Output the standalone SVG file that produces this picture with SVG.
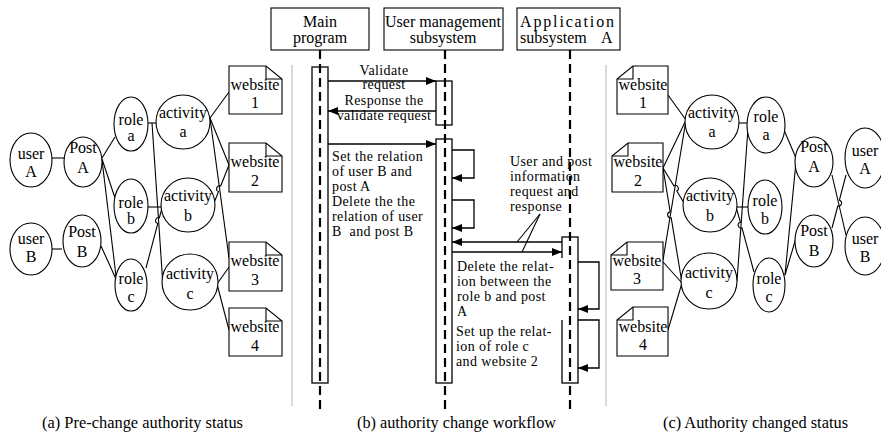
<svg xmlns="http://www.w3.org/2000/svg" width="881" height="438" viewBox="0 0 881 438">
<defs>
<marker id="ah" viewBox="0 0 10 8" refX="10" refY="4" markerWidth="10" markerHeight="8" markerUnits="userSpaceOnUse" orient="auto">
<path d="M0,0 L10,4 L0,8 Z" fill="#000"/>
</marker>
<style>
.n{fill:#fff;stroke:#000;stroke-width:1.1}
.f{fill:none;stroke:#000;stroke-width:1.1}
.t{font-family:"Liberation Serif","Times New Roman",serif;font-size:16px;fill:#000}
.s{font-size:14px;letter-spacing:0.4px}
.m{text-anchor:middle}
.c{fill:none;stroke:#000;stroke-width:1.1}
.a{fill:none;stroke:#000;stroke-width:1.3;marker-end:url(#ah)}
.life{stroke:#000;stroke-width:2.2;stroke-dasharray:9 5;fill:none}
.act{fill:#fff;stroke:#000;stroke-width:1.3}
.sep{stroke:#b4b4b4;stroke-width:1}
</style>
</defs>
<rect width="881" height="438" fill="#fff"/>

<!-- separators -->
<line class="sep" x1="292" y1="65" x2="292" y2="406"/>
<line class="sep" x1="606" y1="65" x2="606" y2="406"/>

<!-- connectors: left panel -->
<g id="connectors-left">
<line class="c" x1="51" y1="158" x2="64" y2="158"/>
<line class="c" x1="52" y1="249" x2="62" y2="249"/>
<line class="c" x1="102" y1="158" x2="115" y2="137"/>
<line class="c" x1="102" y1="159" x2="115" y2="198"/>
<line class="c" x1="102" y1="160" x2="116" y2="276"/>
<line class="c" x1="101" y1="246" x2="116" y2="279"/>
<line class="c" x1="148" y1="123" x2="157" y2="123"/>
<line class="c" x1="152" y1="123" x2="163" y2="286"/>
<line class="c" x1="147" y1="207" x2="162" y2="207"/>
<path class="c" d="M146,268 L157.8,223.5 A3,3 0 0 1 159.4,217.7 L162,208"/>
<line class="c" x1="210" y1="118" x2="229" y2="92"/>
<line class="c" x1="210" y1="118" x2="229" y2="165"/>
<line class="c" x1="210" y1="118" x2="229" y2="258"/>
<path class="c" d="M214,203 L218.5,191.6 A3,3 0 0 1 220.7,186 L229,165"/>
<line class="c" x1="217" y1="284" x2="229" y2="267"/>
<line class="c" x1="217" y1="284" x2="229" y2="330"/>
</g>

<!-- connectors: right panel -->
<g id="connectors-right">
<line class="c" x1="686" y1="120" x2="668" y2="95"/>
<line class="c" x1="686" y1="120" x2="663" y2="168"/>
<line class="c" x1="686" y1="120" x2="663" y2="260"/>
<path class="c" d="M663,168 L673.8,185.8 A3,3 0 0 1 676.8,191 L684,203"/>
<path class="c" d="M663,168 L670.2,211.9 A3,3 0 0 0 671.2,217.9 L682,283"/>
<line class="c" x1="663" y1="262" x2="682" y2="283"/>
<line class="c" x1="668" y1="330" x2="682" y2="283"/>
<line class="c" x1="738" y1="123" x2="747" y2="123"/>
<line class="c" x1="748" y1="128" x2="737" y2="281"/>
<line class="c" x1="737" y1="207" x2="748" y2="207"/>
<path class="c" d="M736,207 L740.4,222.2 A3,3 0 0 0 742,228 L754,272"/>
<line class="c" x1="784" y1="130" x2="796" y2="158"/>
<line class="c" x1="796" y1="162" x2="785" y2="275"/>
<line class="c" x1="796" y1="238" x2="785" y2="275"/>
<line class="c" x1="832" y1="175" x2="846" y2="235"/>
<path class="c" d="M832,228 L837.8,206 A3,3 0 0 0 839.4,200.2 L846,175"/>
</g>

<!-- left panel nodes -->
<g id="userA-left"><ellipse class="n" cx="31" cy="160" rx="21" ry="27"/><text class="t m" x="31" y="159">user<tspan x="31" dy="18">A</tspan></text></g>
<g id="postA-left"><ellipse class="n" cx="83" cy="162" rx="19" ry="25"/><text class="t m" x="83" y="153">Post<tspan x="83" dy="20">A</tspan></text></g>
<g id="userB-left"><ellipse class="n" cx="31" cy="249" rx="21" ry="26"/><text class="t m" x="31" y="244">user<tspan x="31" dy="18">B</tspan></text></g>
<g id="postB-left"><ellipse class="n" cx="82" cy="241" rx="19" ry="26"/><text class="t m" x="82" y="237">Post<tspan x="82" dy="20">B</tspan></text></g>
<g id="roleA-left"><ellipse class="n" cx="131" cy="124" rx="17" ry="27"/><text class="t m" x="131" y="125">role<tspan x="131" dy="16">a</tspan></text></g>
<g id="roleB-left"><ellipse class="n" cx="131" cy="206" rx="17" ry="27"/><text class="t m" x="131" y="208">role<tspan x="131" dy="16">b</tspan></text></g>
<g id="roleC-left"><ellipse class="n" cx="131" cy="285" rx="16" ry="26"/><text class="t m" x="131" y="284">role<tspan x="131" dy="18">c</tspan></text></g>
<g id="activityA-left"><circle class="n" cx="183" cy="122" r="27"/><text class="t m" x="183" y="118">activity<tspan x="183" dy="19">a</tspan></text></g>
<g id="activityB-left"><circle class="n" cx="188" cy="205" r="27"/><text class="t m" x="188" y="201">activity<tspan x="188" dy="20">b</tspan></text></g>
<g id="activityC-left"><circle class="n" cx="190" cy="282" r="28"/><text class="t m" x="190" y="279">activity<tspan x="190" dy="20">c</tspan></text></g>
<g id="website1-left"><path class="n" d="M229,66 H266 L282,79 V114 H229 Z"/><path class="f" d="M266,66 V79 H282"/><text class="t m" x="255" y="90">website<tspan x="255" dy="18">1</tspan></text></g>
<g id="website2-left"><path class="n" d="M229,143 H266 L282,156 V192 H229 Z"/><path class="f" d="M266,143 V156 H282"/><text class="t m" x="255" y="167">website<tspan x="255" dy="19">2</tspan></text></g>
<g id="website3-left"><path class="n" d="M229,242 H266 L282,255 V291 H229 Z"/><path class="f" d="M266,242 V255 H282"/><text class="t m" x="255" y="266">website<tspan x="255" dy="19">3</tspan></text></g>
<g id="website4-left"><path class="n" d="M229,308 H266 L282,321 V356 H229 Z"/><path class="f" d="M266,308 V321 H282"/><text class="t m" x="255" y="332">website<tspan x="255" dy="19">4</tspan></text></g>

<!-- right panel nodes -->
<g id="website1-right"><path class="n" d="M633,66 H668 V114 H617 V79 Z"/><path class="f" d="M633,66 V79 H617"/><text class="t m" x="643" y="90">website<tspan x="643" dy="18">1</tspan></text></g>
<g id="website2-right"><path class="n" d="M628,143 H663 V192 H612 V156 Z"/><path class="f" d="M628,143 V156 H612"/><text class="t m" x="638" y="167">website<tspan x="638" dy="19">2</tspan></text></g>
<g id="website3-right"><path class="n" d="M627,242 H663 V290 H611 V255 Z"/><path class="f" d="M627,242 V255 H611"/><text class="t m" x="637" y="266">website<tspan x="637" dy="18">3</tspan></text></g>
<g id="website4-right"><path class="n" d="M633,307 H668 V356 H617 V320 Z"/><path class="f" d="M633,307 V320 H617"/><text class="t m" x="643" y="332">website<tspan x="643" dy="18">4</tspan></text></g>
<g id="activityA-right"><circle class="n" cx="712" cy="122" r="27"/><text class="t m" x="712" y="118">activity<tspan x="712" dy="19">a</tspan></text></g>
<g id="activityB-right"><circle class="n" cx="710" cy="205" r="27"/><text class="t m" x="710" y="201">activity<tspan x="710" dy="20">b</tspan></text></g>
<g id="activityC-right"><circle class="n" cx="709" cy="281" r="28"/><text class="t m" x="709" y="278">activity<tspan x="709" dy="20">c</tspan></text></g>
<g id="roleA-right"><ellipse class="n" cx="766" cy="125" rx="19" ry="28"/><text class="t m" x="766" y="122">role<tspan x="766" dy="18">a</tspan></text></g>
<g id="roleB-right"><ellipse class="n" cx="765" cy="207" rx="17" ry="27"/><text class="t m" x="765" y="206">role<tspan x="765" dy="18">b</tspan></text></g>
<g id="roleC-right"><ellipse class="n" cx="769" cy="285" rx="16" ry="27"/><text class="t m" x="769" y="284">role<tspan x="769" dy="18">c</tspan></text></g>
<g id="postA-right"><ellipse class="n" cx="814" cy="162" rx="19" ry="25"/><text class="t m" x="814" y="152">Post<tspan x="814" dy="20">A</tspan></text></g>
<g id="postB-right"><ellipse class="n" cx="814" cy="241" rx="19" ry="26"/><text class="t m" x="814" y="236">Post<tspan x="814" dy="20">B</tspan></text></g>
<g id="userA-right"><ellipse class="n" cx="865" cy="158" rx="20" ry="30"/><text class="t m" x="865" y="156">user<tspan x="865" dy="18">A</tspan></text></g>
<g id="userB-right"><ellipse class="n" cx="865" cy="246" rx="20" ry="29"/><text class="t m" x="865" y="244">user<tspan x="865" dy="18">B</tspan></text></g>

<!-- sequence diagram -->
<g id="main-program"><rect class="n" x="271" y="8" width="98" height="42"/><text class="t m" x="320" y="27">Main<tspan x="320" dy="16">program</tspan></text></g>
<g id="user-management"><rect class="n" x="384" y="8" width="119" height="42"/><text class="t m" x="443" y="27">User management<tspan x="443" dy="16">subsystem</tspan></text></g>
<g id="application"><rect class="n" x="517" y="8" width="103" height="42"/><text class="t" x="520" y="27"><tspan textLength="94" lengthAdjust="spacing">Application</tspan><tspan x="520" dy="16">subsystem</tspan><tspan x="601">A</tspan></text></g>

<g id="activations">
<rect class="act" x="312" y="67" width="16" height="316"/>
<rect class="act" x="436" y="81" width="16" height="44"/>
<rect class="act" x="436" y="139" width="16" height="244"/>
<rect class="act" x="562" y="237" width="16" height="146"/>
<rect x="455" y="258" width="108" height="62" fill="#fff"/>
</g>

<g id="lifelines">
<line class="life" x1="320" y1="50" x2="320" y2="410"/>
<line class="life" x1="445" y1="50" x2="445" y2="410"/>
<line class="life" x1="570" y1="50" x2="570" y2="410"/>
</g>

<g id="messages">
<line class="a" x1="328" y1="81" x2="436" y2="81"/>
<line class="a" x1="436" y1="111" x2="328" y2="111"/>
<line class="a" x1="328" y1="144" x2="436" y2="144"/>
<path class="a" d="M452,150 H474 V178 H452"/>
<path class="a" d="M452,200 H474 V228 H452"/>
<line class="a" x1="562" y1="242" x2="452" y2="242"/>
<line class="a" x1="452" y1="252" x2="562" y2="252"/>
<line class="c" x1="540" y1="214" x2="517" y2="242"/>
<line class="c" x1="540" y1="214" x2="522" y2="252"/>
<path class="a" d="M578,262 H599 V309 H578"/>
<path class="a" d="M578,320 H599 V368 H578"/>
</g>

<g id="message-labels">
<text class="t s m" x="384" y="75">Validate<tspan x="384" dy="14">request</tspan></text>
<text class="t s m" x="384" y="105">Response the<tspan x="384" dy="15">validate request</tspan></text>
<text class="t s" x="332" y="161">Set the relation<tspan x="332" dy="15">of user B and</tspan><tspan x="332" dy="15">post A</tspan></text>
<text class="t s" x="332" y="206" xml:space="preserve">Delete the the<tspan x="332" dy="15">relation of user</tspan><tspan x="332" dy="15">B  and post B</tspan></text>
<text class="t s" x="510" y="166">User and post<tspan x="510" dy="15">information</tspan><tspan x="510" dy="15">request and</tspan><tspan x="510" dy="15">response</tspan></text>
<text class="t s" x="457" y="271">Delete the relat-<tspan x="457" dy="15">ion between the</tspan><tspan x="457" dy="15">role b and post</tspan><tspan x="457" dy="15">A</tspan></text>
<text class="t s" x="456" y="336">Set up the relat-<tspan x="456" dy="15">ion of role c</tspan><tspan x="456" dy="15">and website 2</tspan></text>
</g>

<g id="captions">
<text class="t" x="42" y="428" textLength="201" lengthAdjust="spacingAndGlyphs">(a) Pre-change authority status</text>
<text class="t" x="357" y="428" textLength="199" lengthAdjust="spacingAndGlyphs">(b) authority change workflow</text>
<text class="t" x="663" y="428" textLength="185" lengthAdjust="spacingAndGlyphs">(c) Authority changed status</text>
</g>
</svg>
